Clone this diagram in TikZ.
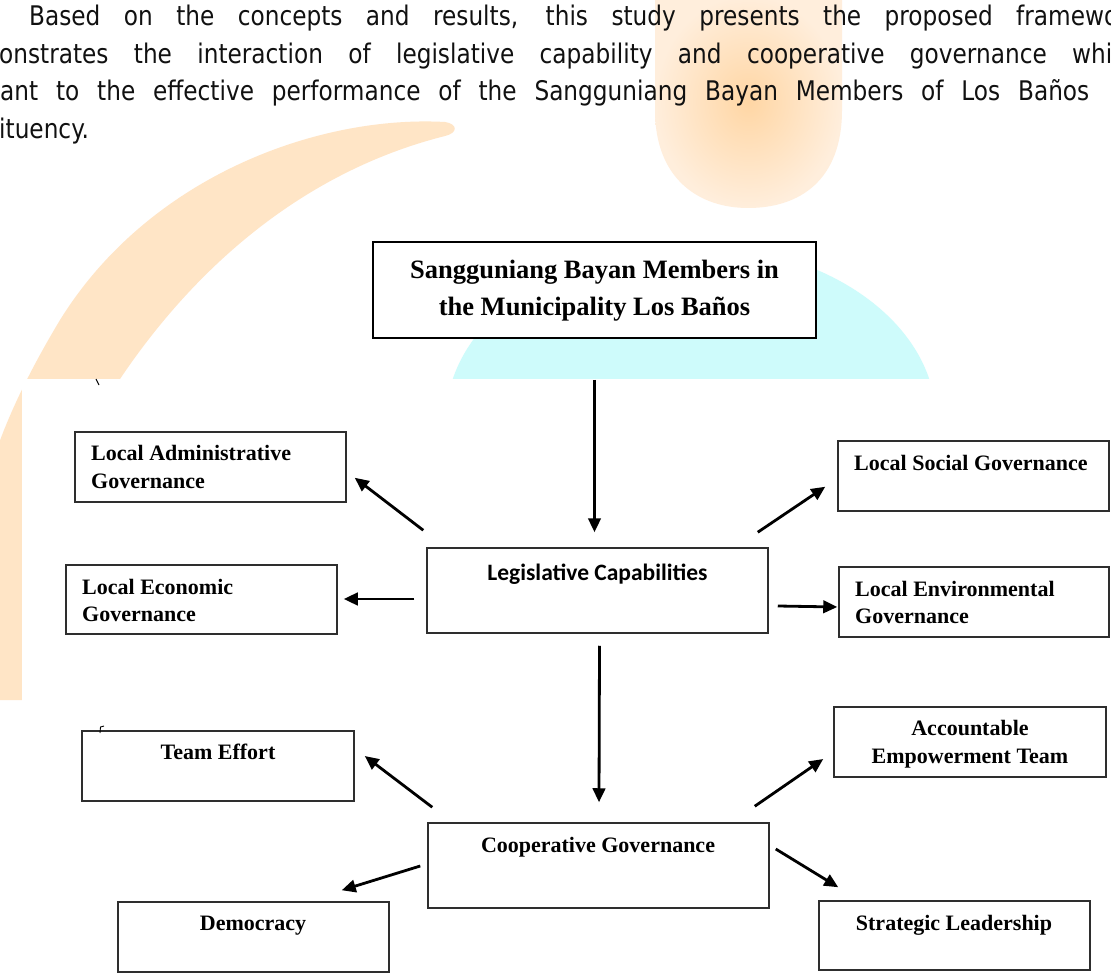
\documentclass[tikz,border=0pt]{standalone}
\usepackage{fontspec}
\setmainfont{Liberation Serif}
\newfontfamily\tahfont[FakeStretch=0.86]{DejaVu Sans}
\newfontfamily\calfont{Carlito}
\usetikzlibrary{arrows.meta,calc}
\definecolor{wmorange}{HTML}{FFE5C6}
\definecolor{wmorangepale}{HTML}{FFEEDC}
\definecolor{wmorangedeep}{HTML}{FFD6A4}
\definecolor{wmcyan}{HTML}{CEFBFB}
\definecolor{boxline}{HTML}{2E2E2E}
\definecolor{paratext}{HTML}{111111}
\begin{document}
\begin{tikzpicture}[x=1pt,y=-1pt,
  bx/.style={draw=boxline,line width=1.5pt,inner sep=0pt,fill=white},
  topbx/.style={draw=black,line width=2pt,inner sep=0pt,fill=white},
  para/.style={font=\tahfont\fontsize{27}{32}\selectfont,inner sep=0pt,text=paratext,anchor=base west},
  lbl/.style={font=\bfseries\fontsize{22}{26}\selectfont,inner sep=0pt,anchor=base west},
  clbl/.style={font=\bfseries\fontsize{22}{26}\selectfont,inner sep=0pt,anchor=base},
  toplbl/.style={font=\bfseries\fontsize{26.5}{30}\selectfont,inner sep=0pt,anchor=base},
  sanslbl/.style={font=\calfont\bfseries\fontsize{23.5}{27}\selectfont,inner sep=0pt,anchor=base},
  arr/.style={-{Triangle[length=14pt,width=12.5pt]},line width=2.8pt,black}
]
\useasboundingbox (0,0) rectangle (1111,973);
\clip (0,0) rectangle (1111,973);
\fill[white] (0,0) rectangle (1111,973);
% watermark: orange crescent
\fill[wmorange] (445,122) .. controls (320,115) and (150,175) .. (60,320)
  .. controls (30,370) and (5,420) .. (-10,470) -- (-10,700) -- (22,700)
  .. controls (30,520) and (70,430) .. (120,379)
  .. controls (200,260) and (310,170) .. (445,136)
  .. controls (458,133) and (458,124) .. cycle;
% watermark: orange drop
\shade[inner color=wmorangedeep,outer color=wmorangepale]
  (655,-5) -- (655,110) .. controls (655,180) and (700,208) .. (748,208)
  .. controls (800,208) and (842,180) .. (842,110) -- (842,-5) -- cycle;
% watermark: cyan dome
\begin{scope}
  \clip (0,0) rectangle (1111,379);
  \fill[wmcyan] (691,420) ellipse [x radius=245, y radius=175];
\end{scope}
\fill[white] (22,379) rectangle (1111,973);
% paragraph
\node[para] (p1) at (29,26) {\makebox[1089pt][s]{Based on the concepts and results, this study presents the proposed framewo}};
\node[para] (p2) at (-1,64) {\makebox[1113pt][s]{onstrates the interaction of legislative capability and cooperative governance whi}};
\node[para] (p3) at (0,101) {\makebox[1089pt][s]{ant to the effective performance of the Sangguniang Bayan Members of Los Baños}};
\node[para] (p4) at (-1,139) {ituency.};
% boxes
\node[topbx,minimum width=443pt,minimum height=96pt] (top) at (594.5,290) {};
\node[bx,minimum width=271pt,minimum height=70pt] (lag) at (210.5,467) {};
\node[bx,minimum width=271pt,minimum height=70pt] (lsg) at (973.5,476) {};
\node[bx,minimum width=341pt,minimum height=85pt] (lc) at (597.5,590.5) {};
\node[bx,minimum width=271pt,minimum height=69pt] (lecon) at (201.5,599.5) {};
\node[bx,minimum width=270pt,minimum height=70pt] (lenv) at (974,602) {};
\node[bx,minimum width=272pt,minimum height=70pt] (te) at (218,766) {};
\node[bx,minimum width=272pt,minimum height=70pt] (aet) at (970,742) {};
\node[bx,minimum width=341pt,minimum height=85pt] (cg) at (598.5,865.5) {};
\node[bx,minimum width=271pt,minimum height=70pt] (dem) at (253.5,937) {};
\node[bx,minimum width=271pt,minimum height=69pt] (sl) at (954.5,935.5) {};
% labels
\node[toplbl] (topt1) at (594.5,279) {Sangguniang Bayan Members in};
\node[toplbl] (topt2) at (594.5,316) {the Municipality Los Baños};
\node[lbl] (lagt1) at (91,460) {Local Administrative};
\node[lbl] (lagt2) at (91,488) {Governance};
\node[lbl] (lsgt) at (854,470) {Local Social Governance};
\node[sanslbl] (lct) at (597.5,580) {Legislative Capabilities};
\node[lbl] (lecont1) at (82,594) {Local Economic};
\node[lbl] (lecont2) at (82,621) {Governance};
\node[lbl] (lenvt1) at (855,596) {Local Environmental};
\node[lbl] (lenvt2) at (855,623) {Governance};
\node[clbl] (tet) at (218,759) {Team Effort};
\node[clbl] (aett1) at (970,735) {Accountable};
\node[clbl] (aett2) at (970,763) {Empowerment Team};
\node[clbl] (cgt) at (598,852) {Cooperative Governance};
\node[clbl] (demt) at (253,930) {Democracy};
\node[clbl] (slt) at (954,930) {Strategic Leadership};
% connectors
\draw[arr] ($(top.south)+(0,41)$) -- ($(lc.north)+(-3,-15)$);
\draw[arr] ($(lc.north west)+(-3,-17)$) -- ($(lag.south east)+(8,-25)$);
\draw[arr] ($(lc.north east)+(-11,-15)$) -- ($(lsg.south west)+(-12,-25)$);
\draw[arr] ($(lc.west)+(-12,8.5)$) -- ($(lecon.east)+(6,-0.5)$);
\draw[arr] ($(lc.east)+(9,15.5)$) -- ($(lenv.west)+(-1,5)$);
\draw[arr] ($(lc.south)+(2,12)$) -- ($(cg.north)+(0.5,-20)$);
\draw[arr] ($(cg.north west)+(5,-15)$) -- ($(te.east)+(10,-10)$);
\draw[arr] ($(cg.north east)+(-15,-16)$) -- ($(aet.west)+(-10,17)$);
\draw[arr] ($(cg.west)+(-7,0.5)$) -- ($(dem.north east)+(-48,-11)$);
\draw[arr] ($(cg.east)+(6,-16.5)$) -- ($(sl.north west)+(20,-13)$);
% stray marks
\draw[line width=0.9pt] (96,379) -- (99,385);
\draw[line width=0.9pt] (100,733) -- (100.5,727) -- (104,726);
\end{tikzpicture}
\end{document}
